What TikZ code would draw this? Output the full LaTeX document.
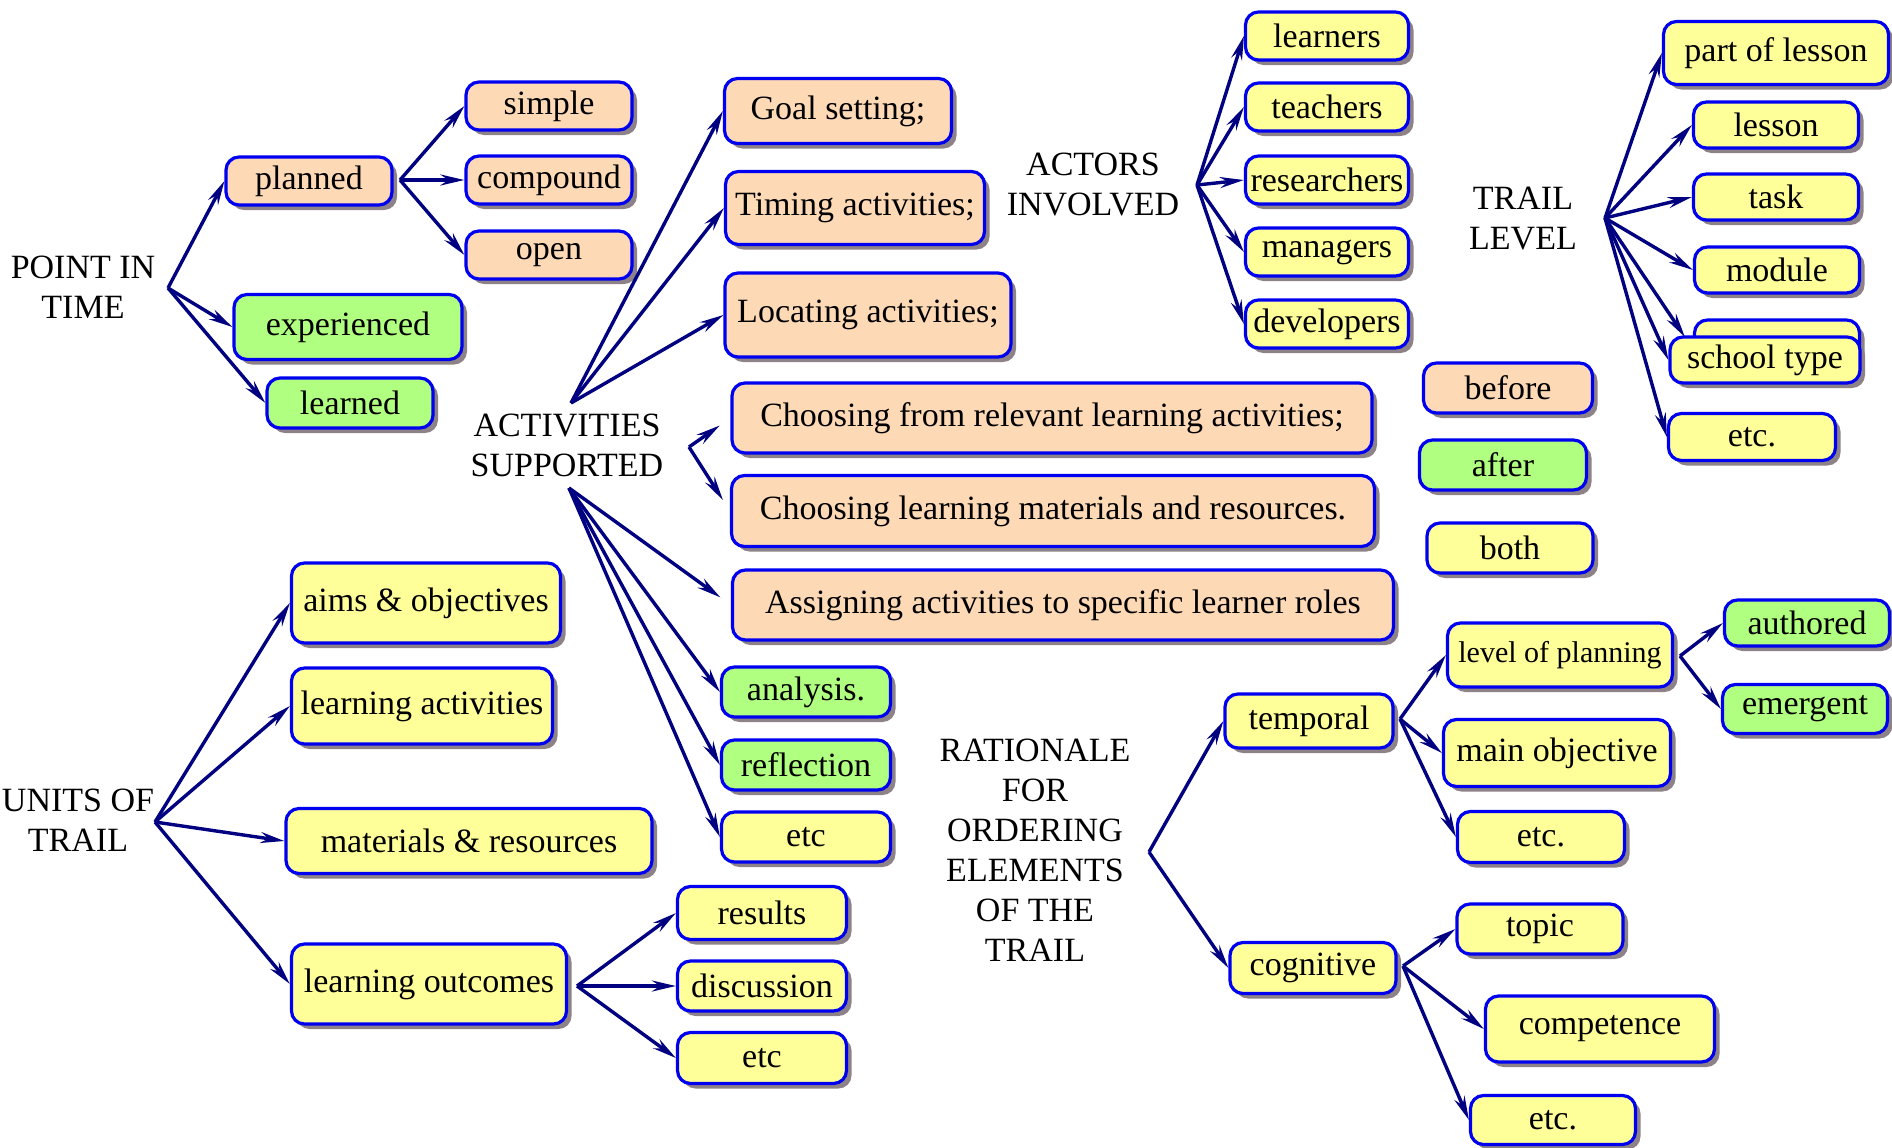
\documentclass[tikz,border=0pt]{standalone}
\usepackage{fontspec}
\setmainfont{Liberation Serif}
\usetikzlibrary{arrows.meta,shadows,calc}
\definecolor{peach}{RGB}{253,217,181}
\definecolor{yel}{RGB}{255,255,153}
\definecolor{grn}{RGB}{176,255,128}
\definecolor{bblue}{RGB}{0,0,240}
\definecolor{navy}{RGB}{0,0,128}
\definecolor{shd}{RGB}{140,130,135}
\tikzset{
  box/.style={draw=bblue, line width=1.6pt, rounded corners=6.5pt, inner sep=0pt,
    font=\fontsize{17}{20}\selectfont,
    drop shadow={shadow xshift=2.5pt, shadow yshift=-2.5pt, fill=shd, opacity=1}},
  pe/.style={box, fill=peach},
  ye/.style={box, fill=yel},
  gr/.style={box, fill=grn},
  sz/.style 2 args={minimum width=#1, minimum height=#2},
  lbl/.style={align=center, inner sep=0pt, font=\fontsize{17}{20}\selectfont},
  arr/.style={draw=navy, line width=1.7pt, line join=round,
    -{Stealth[length=12pt, width=5.5pt, inset=4pt]}},
}
\begin{document}
\begin{tikzpicture}[x=0.5pt,y=-0.5pt]
\useasboundingbox (0,0) rectangle (1892,1147);

% ---------- POINT IN TIME ----------
\node[lbl] (pit) at (83,287) {POINT IN\\TIME};
\node[pe, sz={83pt}{24pt}] (planned) at (309,181) {planned};
\node[pe, sz={83pt}{24pt}] (simple) at (549,106) {simple};
\node[pe, sz={83pt}{24pt}] (compound) at (549,180) {compound};
\node[pe, sz={83pt}{24pt}] (open) at (549,255) {open};
\node[gr, sz={114pt}{32.5pt}] (experienced) at (348,327) {experienced};
\node[gr, sz={83pt}{25pt}] (learned) at (350,403) {learned};

% ---------- ACTIVITIES SUPPORTED ----------
\node[lbl] (acts) at (567,445) {ACTIVITIES\\SUPPORTED};
\node[pe, sz={113.5pt}{32.5pt}] (goal) at (838,111) {Goal setting;};
\node[pe, sz={129.5pt}{36.5pt}] (timing) at (855,208) {Timing activities;};
\node[pe, sz={143pt}{42pt}] (locating) at (868,315) {Locating activities;};
\node[pe, sz={320pt}{35pt}] (choose1) at (1052,418) {Choosing from relevant learning activities;};
\node[pe, sz={321.5pt}{35.5pt}] (choose2) at (1053,511) {Choosing learning materials and resources.};
\node[pe, sz={330.5pt}{35pt}] (assign) at (1063,605) {Assigning activities to specific learner roles};
\node[gr, sz={84.5pt}{25pt}] (analysis) at (806,692) {analysis.};
\node[gr, sz={84.5pt}{25pt}] (reflection) at (806,765) {reflection};
\node[ye, sz={84.5pt}{25pt}] (etcA) at (806,837) {etc};

% ---------- ACTORS INVOLVED ----------
\node[lbl] (actors) at (1093,184) {ACTORS\\INVOLVED};
\node[ye, sz={81.5pt}{24pt}] (learners) at (1327,36) {learners};
\node[ye, sz={81.5pt}{24pt}] (teachers) at (1327,107) {teachers};
\node[ye, sz={81.5pt}{24pt}] (researchers) at (1327,180) {researchers};
\node[ye, sz={81.5pt}{24pt}] (managers) at (1327,252) {managers};
\node[ye, sz={81.5pt}{24pt}] (developers) at (1327,324) {developers};

% ---------- TRAIL LEVEL ----------
\node[lbl] (trail) at (1523,219) {TRAIL\\LEVEL};
\node[ye, sz={112.5pt}{31.5pt}] (partlesson) at (1776,53) {part of lesson};
\node[ye, sz={82.5pt}{23pt}] (lesson) at (1776,125) {lesson};
\node[ye, sz={82.5pt}{23pt}] (task) at (1776,197) {task};
\node[ye, sz={82.5pt}{23pt}] (module) at (1777,270) {module};
\node[ye, sz={82.5pt}{23pt}] (hidden) at (1777,343) {};
\node[ye, sz={95pt}{23pt}] (schooltype) at (1765,360) {school type};
\node[ye, sz={83.5pt}{23.5pt}] (etcT) at (1752,437) {etc.};

% ---------- before / after / both ----------
\node[pe, sz={84.5pt}{25pt}] (before) at (1508,388) {before};
\node[gr, sz={83.5pt}{25pt}] (after) at (1503,465) {after};
\node[ye, sz={83pt}{25pt}] (both) at (1510,548) {both};

% ---------- UNITS OF TRAIL ----------
\node[lbl] (units) at (78,820) {UNITS OF\\TRAIL};
\node[ye, sz={134.5pt}{40pt}] (aims) at (426,603) {aims \& objectives};
\node[ye, sz={130.5pt}{38pt}] (lact) at (422,706) {learning activities};
\node[ye, sz={183pt}{32.5pt}] (mat) at (469,841) {materials \& resources};
\node[ye, sz={137.5pt}{40pt}] (lo) at (429,984) {learning outcomes};
\node[ye, sz={84.5pt}{26.5pt}] (results) at (762,913) {results};
\node[ye, sz={84.5pt}{25pt}] (discussion) at (762,986) {discussion};
\node[ye, sz={84.5pt}{25.5pt}] (etcU) at (762,1058) {etc};

% ---------- RATIONALE ----------
\node[lbl] (rat) at (1035,850) {RATIONALE\\FOR\\ORDERING\\ELEMENTS\\OF THE\\TRAIL};
\node[ye, sz={84pt}{27pt}] (temporal) at (1309,721) {temporal};
\node[ye, sz={112.5pt}{32pt}, font=\fontsize{15}{18}\selectfont] (lop) at (1560,655) {level of planning};
\node[ye, sz={113.5pt}{33.5pt}] (mainobj) at (1557,753) {main objective};
\node[ye, sz={83.5pt}{25.5pt}] (etcR1) at (1541,837) {etc.};
\node[gr, sz={82.5pt}{23pt}] (authored) at (1807,623) {authored};
\node[gr, sz={82.5pt}{24.5pt}] (emergent) at (1805,709) {emergent};
\node[ye, sz={83pt}{25.5pt}] (cognitive) at (1313,968) {cognitive};
\node[ye, sz={83pt}{25pt}] (topic) at (1540,929) {topic};
\node[ye, sz={114.5pt}{33pt}] (competence) at (1600,1029) {competence};
\node[ye, sz={82.5pt}{24.5pt}] (etcR2) at (1553,1120) {etc.};

% ---------- arrow origins ----------
\coordinate (pitO) at (168,288);
\coordinate (plO) at (400,180);
\coordinate (actO) at (571,403);
\coordinate (forkO) at (689,447);
\coordinate (actB) at (569,488);
\coordinate (actorsO) at (1197,185);
\coordinate (trailO) at (1605,218);
\coordinate (unitsO) at (155,822);
\coordinate (loO) at (577,986);
\coordinate (ratO) at (1149,852);
\coordinate (tempO) at (1400,719);
\coordinate (lopO) at (1680,656);
\coordinate (cogO) at (1403,966);

% ---------- arrows ----------
\draw[arr] (pitO) -- (planned.west);
\draw[arr] (pitO) -- (experienced.west);
\draw[arr] (pitO) -- (learned.west);
\draw[arr] (plO) -- (simple.west);
\draw[arr] (plO) -- (compound.west);
\draw[arr] (plO) -- (open.west);

\draw[arr] (actO) -- (goal.west);
\draw[arr] (actO) -- (timing.west);
\draw[arr] (actO) -- (locating.west);
\draw[arr, shorten >=6.5pt] (forkO) -- (choose1.west);
\draw[arr, shorten >=6.5pt] (forkO) -- (choose2.west);
\draw[arr, shorten >=6.5pt] (actB) -- (assign.west);
\draw[arr] (actB) -- (analysis.west);
\draw[arr] (actB) -- (reflection.west);
\draw[arr] (actB) -- (etcA.west);

\draw[arr] (actorsO) -- (learners.west);
\draw[arr] (actorsO) -- (teachers.west);
\draw[arr] (actorsO) -- (researchers.west);
\draw[arr] (actorsO) -- (managers.west);
\draw[arr] (actorsO) -- (developers.west);

\draw[arr] (trailO) -- (partlesson.west);
\draw[arr] (trailO) -- (lesson.west);
\draw[arr] (trailO) -- (task.west);
\draw[arr] (trailO) -- (module.west);
\draw[arr] (trailO) -- ([xshift=-4pt,yshift=3pt]hidden.west);
\draw[arr] (trailO) -- (schooltype.west);
\draw[arr] (trailO) -- (etcT.west);

\draw[arr] (unitsO) -- (aims.west);
\draw[arr] (unitsO) -- (lact.west);
\draw[arr] (unitsO) -- (mat.west);
\draw[arr] (unitsO) -- (lo.west);
\draw[arr] (loO) -- (results.west);
\draw[arr] (loO) -- (discussion.west);
\draw[arr] (loO) -- (etcU.west);

\draw[arr] (ratO) -- (temporal.west);
\draw[arr] (ratO) -- (cognitive.west);
\draw[arr] (tempO) -- (lop.west);
\draw[arr] (tempO) -- (mainobj.west);
\draw[arr] (tempO) -- (etcR1.west);
\draw[arr] (lopO) -- (authored.west);
\draw[arr] (lopO) -- (emergent.west);
\draw[arr] (cogO) -- (topic.west);
\draw[arr] (cogO) -- (competence.west);
\draw[arr] (cogO) -- (etcR2.west);
\end{tikzpicture}
\end{document}
